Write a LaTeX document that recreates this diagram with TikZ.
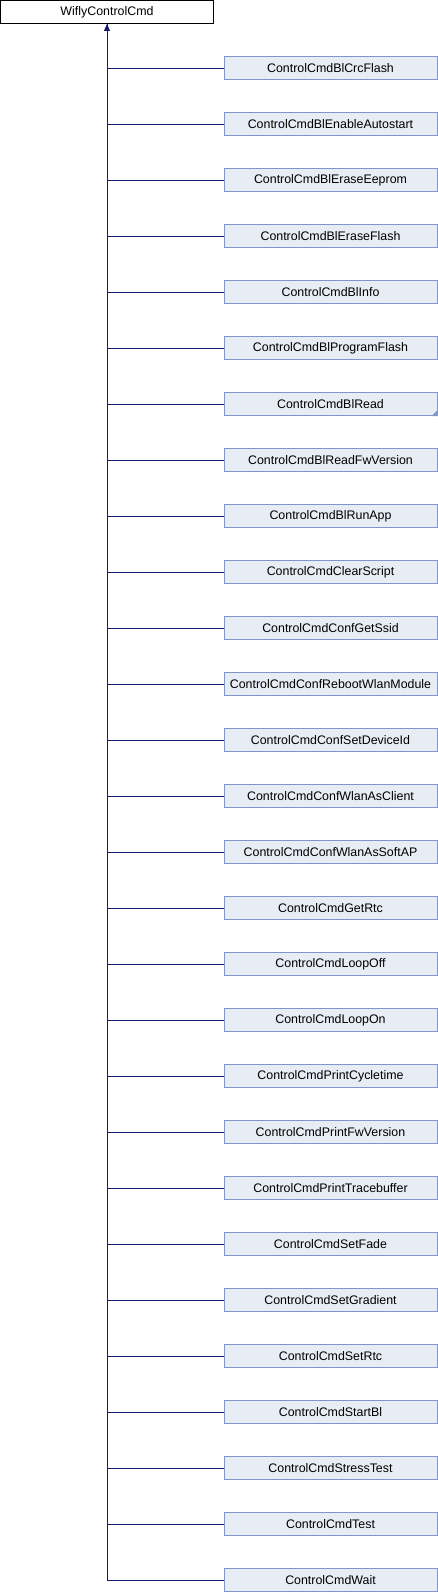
\documentclass[tikz,border=0pt]{standalone}
\usepackage{fontspec}
\setmainfont{Liberation Sans}
\usetikzlibrary{arrows.meta}
\definecolor{boxfill}{HTML}{E8ECF5}
\definecolor{boxdraw}{HTML}{7F96C8}
\definecolor{linkcol}{HTML}{191970}
\tikzset{
  rootbox/.style={draw=black, fill=white, line width=1pt, minimum width=213pt, minimum height=23pt, inner sep=0pt, font=\fontsize{12.4}{14}\selectfont},
  childbox/.style={draw=boxdraw, fill=boxfill, line width=1pt, minimum width=213pt, minimum height=23pt, inner sep=0pt, font=\fontsize{12.4}{14}\selectfont},
  link/.style={draw=linkcol, line width=0.9pt},
  linkarrow/.style={link, -{Triangle[width=6pt,length=7pt]}},
}
\begin{document}
\begin{tikzpicture}[x=1pt,y=-1pt]
\useasboundingbox (0,0) rectangle (438,1592);
\node[rootbox] (root) at (107,12) {WiflyControlCmd};
\foreach \name [count=\i] in {ControlCmdBlCrcFlash,ControlCmdBlEnableAutostart,ControlCmdBlEraseEeprom,ControlCmdBlEraseFlash,ControlCmdBlInfo,ControlCmdBlProgramFlash,ControlCmdBlRead,ControlCmdBlReadFwVersion,ControlCmdBlRunApp,ControlCmdClearScript,ControlCmdConfGetSsid,ControlCmdConfRebootWlanModule,ControlCmdConfSetDeviceId,ControlCmdConfWlanAsClient,ControlCmdConfWlanAsSoftAP,ControlCmdGetRtc,ControlCmdLoopOff,ControlCmdLoopOn,ControlCmdPrintCycletime,ControlCmdPrintFwVersion,ControlCmdPrintTracebuffer,ControlCmdSetFade,ControlCmdSetGradient,ControlCmdSetRtc,ControlCmdStartBl,ControlCmdStressTest,ControlCmdTest,ControlCmdWait}{
  \node[childbox] (c\i) at (330.5,{68+56*(\i-1)}) {\name};
  \draw[link] (c\i.west) -| (root.south);
}
\fill[boxdraw] (c7.south east) -- ++(-6,0) -- ++(6,-6) -- cycle;
\draw[linkarrow] (c28.west) -| (root.south);
\end{tikzpicture}
\end{document}
